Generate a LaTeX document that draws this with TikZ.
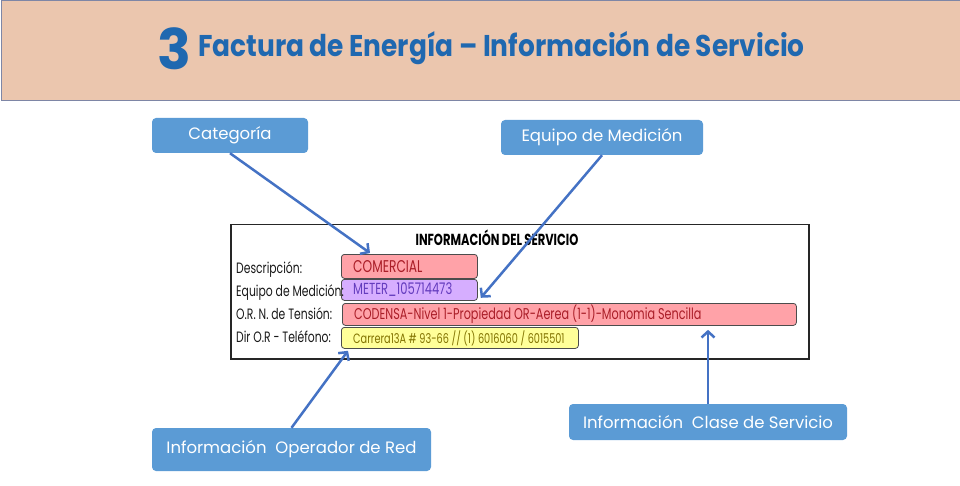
\documentclass[tikz,border=0pt]{standalone}
\usepackage{fontspec}
\setmainfont{Poppins}
\newfontfamily\condfont[FakeStretch=0.72]{Poppins}
\newfontfamily\titlefont[FakeStretch=0.88]{Poppins}
\usetikzlibrary{arrows, arrows.meta, positioning, calc}
\definecolor{headFg}{RGB}{31, 104, 176}
\definecolor{headBg}{RGB}{235, 198, 174}
\definecolor{headBorder}{RGB}{126, 134, 166}
\definecolor{labelBg}{RGB}{91, 155, 213}
\definecolor{arrowFg}{RGB}{68, 114, 196}
\definecolor{redValBg}{RGB}{255, 162, 168}
\definecolor{redValFg}{RGB}{170, 30, 40}
\definecolor{purpleValBg}{RGB}{214, 174, 255}
\definecolor{purpleValFg}{RGB}{100, 60, 190}
\definecolor{yellowValBg}{RGB}{255, 255, 153}
\definecolor{yellowValFg}{RGB}{130, 115, 0}
\tikzstyle{arrow} = [line width=2.5pt, draw=arrowFg, -{Straight Barb[length=6pt, width=13pt]}]
\tikzstyle{callout} = [rectangle, rounded corners=4pt, fill=labelBg, text=white, inner sep=0pt, font=\fontsize{16.5}{18}\selectfont]
\tikzstyle{valbox} = [rectangle, rounded corners=3pt, draw=black!70, line width=0.8pt, anchor=north west, inner sep=0pt]
\tikzstyle{valtext} = [anchor=west, xshift=12pt, inner sep=0pt]
\tikzstyle{rowlabel} = [anchor=base west, inner sep=0pt, text=black!90, font=\condfont\fontsize{15}{15}\selectfont]
\tikzstyle{redstyle} = [fill=redValBg, text=redValFg]
\tikzstyle{purplestyle} = [fill=purpleValBg, text=purpleValFg]
\tikzstyle{yellowstyle} = [fill=yellowValBg, text=yellowValFg]

\begin{document}
\begin{tikzpicture}[x=1pt, y=-1pt]
\useasboundingbox (0,0) rectangle (960,486);

\node (header) [rectangle, draw=headBorder, fill=headBg, line width=1pt, minimum width=959pt, minimum height=100pt, anchor=north west] at (0.5,0.5) {};
\node (num) [anchor=base west, inner sep=0pt, text=headFg, font=\bfseries\fontsize{56}{56}\selectfont] at (157,70) {3};
\node (title) [anchor=base west, inner sep=0pt, text=headFg, font=\titlefont\bfseries\fontsize{30}{30}\selectfont] at (198,57) {Factura de Energía – Información de Servicio};

\node (frame) [rectangle, draw=black!85, line width=1.5pt, minimum width=578pt, minimum height=134pt, anchor=north west] at (230,224) {};
\node (frametitle) [anchor=base, inner sep=0pt, font=\condfont\bfseries\fontsize{16}{16}\selectfont] at (497,245) {INFORMACIÓN DEL SERVICIO};

\node (comercial) [valbox, redstyle, minimum width=136pt, minimum height=24pt] at (341,254) {};
\node (meter) [valbox, purplestyle, minimum width=136pt, minimum height=21pt] at (341,279) {};
\node (codensa) [valbox, redstyle, minimum width=454pt, minimum height=22pt] at (342,303) {};
\node (carrera) [valbox, yellowstyle, minimum width=237pt, minimum height=21pt] at (341,327) {};

\node (comercialTxt) [valtext, text=redValFg, font=\condfont\fontsize{17}{17}\selectfont] at (comercial.west) {COMERCIAL};
\node (meterTxt) [valtext, text=purpleValFg, font=\condfont\fontsize{16}{16}\selectfont] at (meter.west) {METER\_105714473};
\node (codensaTxt) [valtext, text=redValFg, font=\condfont\fontsize{15.6}{16}\selectfont] at (codensa.west) {CODENSA-Nivel 1-Propiedad OR-Aerea (1-1)-Monomia Sencilla};
\node (carreraTxt) [valtext, text=yellowValFg, font=\condfont\fontsize{13.5}{14}\selectfont] at (carrera.west) {Carrera13A \# 93-66 // (1) 6016060 / 6015501};

\node (descLbl) [rowlabel] at (236,273) {Descripción:};
\node (equipoLbl) [rowlabel] at (236,296) {Equipo de Medición:};
\node (tensionLbl) [rowlabel] at (236,319) {O.R. N. de Tensión:};
\node (dirLbl) [rowlabel] at (236,342) {Dir O.R - Teléfono:};

\node (categoria) [callout, minimum width=156pt, minimum height=35pt] at (230,135.5) {Categoría};
\node (equipo) [callout, minimum width=202pt, minimum height=35pt] at (602,137.5) {Equipo de Medición};
\node (operador) [callout, minimum width=279pt, minimum height=43pt] at (291.5,449.5) {Información\ \ Operador de Red};
\node (clase) [callout, minimum width=278pt, minimum height=36pt] at (708,422) {Información\ \ Clase de Servicio};

\draw [arrow] (categoria.south) -- ($(comercial.north west)+(29,-1)$);
\draw [arrow] (equipo.south) -- ($(meter.south east)+(3,-3)$);
\draw [arrow] (operador.north) -- ($(carrera.south west)+(7,2)$);
\draw [arrow] (clase.north) -- ($(clase.north |- codensa.south)+(0,4)$);

\end{tikzpicture}
\end{document}
